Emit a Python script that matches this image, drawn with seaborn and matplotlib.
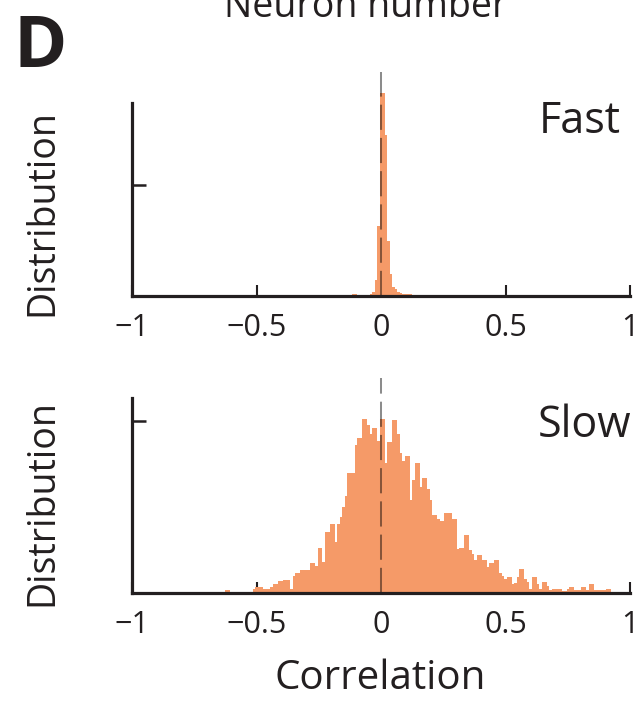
import numpy as np
import pandas as pd
import matplotlib
matplotlib.use("Agg")
import matplotlib.pyplot as plt
import seaborn as sns

# ---- data: histogram heights per 0.01-wide correlation bin (tick on y = 1) ----
BIN_WIDTH = 0.01

# Fast: bins centred on -0.19 ... 0.14
fast_first_bin = -19
fast_heights = [
    0.01, 0.01, 0.01, 0.01, 0.01, 0.01, 0.01, 0.01,   # -0.19 .. -0.12
    0.02, 0.02,                                       # -0.11 .. -0.10
    0.01, 0.01, 0.01, 0.01, 0.01,                     # -0.09 .. -0.05
    0.02, 0.04, 0.14, 0.63,                           # -0.04 .. -0.01
    1.83, 1.83, 1.45, 0.50, 0.20,                     #  0.00 ..  0.04
    0.08, 0.06, 0.04, 0.03,                           #  0.05 ..  0.08
    0.015, 0.015, 0.015, 0.015, 0.01, 0.01,           #  0.09 ..  0.14
]

# Slow: bins centred on -0.62 ... 0.92
slow_first_bin = -62
slow_heights = [
    0.016, 0.016,                                      # -0.62 -0.61
    0, 0, 0, 0, 0, 0, 0, 0, 0,                         # -0.60 .. -0.52
    0.024, 0.034, 0.034, 0.034, 0.024, 0.024, 0.024,  # -0.51 .. -0.45
    0.034, 0.053, 0.053, 0.067, 0.067,                 # -0.44 .. -0.40
    0.075, 0.075, 0.075, 0.024, 0.099,                 # -0.39 .. -0.35
    0.114, 0.114, 0.132, 0.132, 0.132, 0.132,          # -0.34 .. -0.29
    0.174, 0.174, 0.158, 0.264, 0.264, 0.181,          # -0.28 .. -0.23
    0.353, 0.353, 0.400, 0.400, 0.294, 0.400,          # -0.22 .. -0.17
    0.442, 0.499, 0.566, 0.696, 0.696, 0.696,          # -0.16 .. -0.11
    0.860, 0.903, 0.903, 1.010, 1.010, 0.976,          # -0.10 .. -0.05
    0.927, 0.960, 0.960, 0.886,                        # -0.04 .. -0.01
    1.010, 1.010, 0.754, 0.878, 0.878, 1.004, 1.004,   #  0.00 ..  0.06
    0.925, 0.813, 0.770, 0.797, 0.797, 0.543, 0.656,  #  0.07 ..  0.13
    0.754, 0.754, 0.616, 0.666, 0.666, 0.607, 0.543,  #  0.14 ..  0.20
    0.455, 0.455, 0.429, 0.419, 0.419,                 #  0.21 ..  0.25
    0.468, 0.468, 0.468, 0.429, 0.429,                 #  0.26 ..  0.30
    0.256, 0.262, 0.262, 0.337, 0.337, 0.248, 0.228,  #  0.31 ..  0.37
    0.189, 0.222, 0.222, 0.189, 0.189, 0.150,         #  0.38 ..  0.43
    0.173, 0.173, 0.189, 0.189, 0.118, 0.100, 0.079,  #  0.44 ..  0.50
    0.093, 0.093, 0.051, 0.061, 0.093, 0.140, 0.140,  #  0.51 ..  0.57
    0.079, 0.065, 0.026, 0.093, 0.093, 0.050, 0.026,  #  0.58 ..  0.64
    0.065, 0.065, 0.040, 0.020, 0.026, 0.026,         #  0.65 ..  0.70
    0.026, 0.026, 0.010, 0.010, 0.026, 0.035, 0.035,  #  0.71 ..  0.77
    0.020, 0.020, 0.020, 0.035, 0.035, 0.020,         #  0.78 ..  0.83
    0.051, 0.051, 0.020, 0.020, 0.020, 0.020, 0.020,  #  0.84 ..  0.90
    0.026, 0.026,                                      #  0.91 ..  0.92
]

x_ticks = [-1, -0.5, 0, 0.5, 1]
x_tick_labels = ["\u22121", "\u22120.5", "0", "0.5", "1"]
panel_names = ["Fast", "Slow"]

# ---- style ----
sns.set_style("ticks")
plt.rcParams["font.family"] = ["Open Sans", "DejaVu Sans"]
INK = "#231F20"
BAR = "#F59A68"

W, H = 638, 701
fig = plt.figure(figsize=(W / 100, H / 100), dpi=100)


def px_axes(left, top, right, bottom):
    return fig.add_axes([left / W, 1 - bottom / H, (right - left) / W, (bottom - top) / H])


ax_fast = px_axes(132, 72, 630, 296)
ax_slow = px_axes(132, 378, 630, 593)


def draw_panel(ax, first_bin, heights, ytop, spine_top, name, name_x, name_y):
    idx = np.arange(first_bin, first_bin + len(heights))
    df = pd.DataFrame({"correlation": idx * BIN_WIDTH,
                       "height": np.asarray(heights, dtype=float)})
    lo = (first_bin - 0.5) * BIN_WIDTH
    hi = (first_bin + len(heights) - 0.5) * BIN_WIDTH
    sns.histplot(data=df, x="correlation", weights="height",
                 binwidth=BIN_WIDTH, binrange=(lo, hi),
                 stat="count", color=BAR, alpha=1, linewidth=0, ax=ax)
    ax.axvline(0, color="black", alpha=0.45, lw=1.45, ls=(0, (12.5, 4)), zorder=3)
    ax.set_xlim(-1, 1)
    ax.set_ylim(0, ytop)
    for s in ("top", "right"):
        ax.spines[s].set_visible(False)
    for s in ("left", "bottom"):
        ax.spines[s].set_linewidth(2.3)
        ax.spines[s].set_color(INK)
        ax.spines[s].set_zorder(4)
    ax.spines["left"].set_bounds(0, spine_top)
    ax.set_xticks(x_ticks)
    ax.set_xticklabels(x_tick_labels)
    ax.set_yticks([1])
    ax.set_yticklabels([])
    ax.tick_params(axis="x", direction="in", length=8, width=1.5, color=INK,
                   pad=12, labelsize=22, labelcolor=INK)
    ax.tick_params(axis="y", direction="in", length=10, width=1.8, color=INK)
    ax.set_xlabel("")
    ax.set_ylabel("")
    ax.patch.set_alpha(0)
    fig.text(name_x / W, 1 - name_y / H, name, ha="right", va="baseline",
             fontsize=31, color=INK)


draw_panel(ax_fast, fast_first_bin, fast_heights, 224 / 111, 193 / 111,
           panel_names[0], 621, 133)
draw_panel(ax_slow, slow_first_bin, slow_heights, 215 / 172, 195 / 172,
           panel_names[1], 631, 437)

# axis titles
for yc in (213, 503):
    fig.text(42 / W, 1 - yc / H, "Distribution", rotation=90, ha="center",
             va="center", fontsize=27, color=INK)
fig.text(380 / W, 1 - 689 / H, "Correlation", ha="center", va="baseline",
         fontsize=29, color=INK)
fig.text(366 / W, 1 - 17 / H, "Neuron number", ha="center", va="baseline",
         fontsize=27, color=INK)
fig.text(14 / W, 1 - 67 / H, "D", ha="left", va="baseline", fontsize=52,
         fontweight="bold", color=INK)

fig.savefig("out.png", dpi=100)
